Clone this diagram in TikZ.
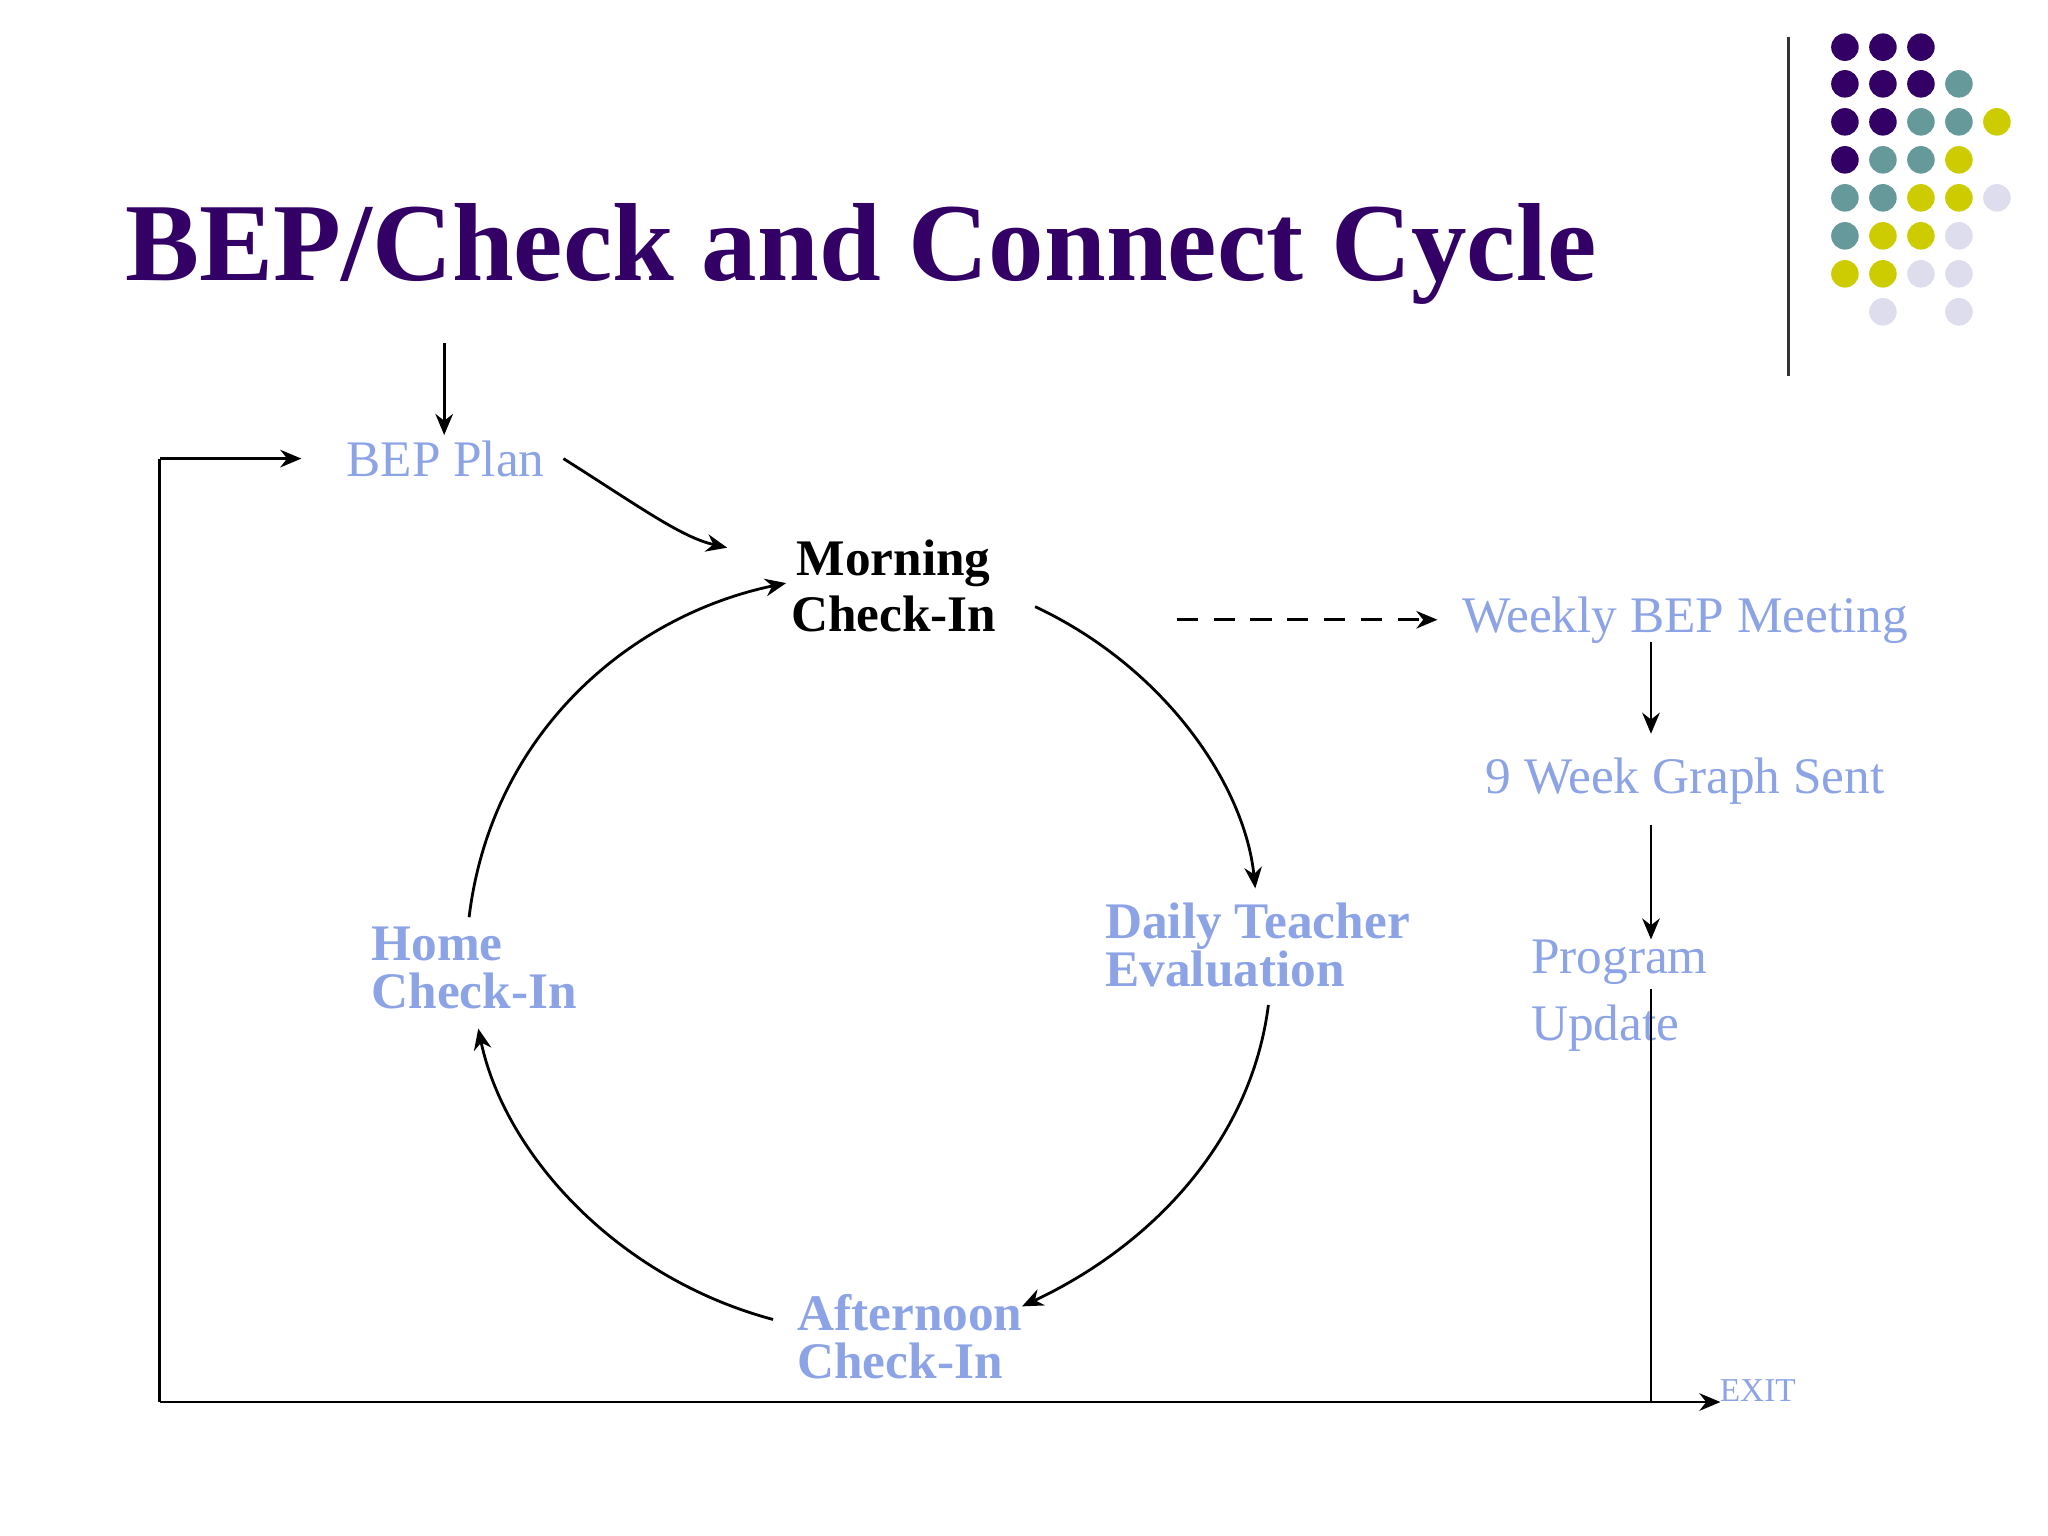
\documentclass[tikz,border=0pt]{standalone}
\usepackage{fontspec}
\setmainfont{Liberation Serif}
\usetikzlibrary{arrows.meta}
\definecolor{ttl}{HTML}{330066}
\definecolor{tl}{HTML}{669999}
\definecolor{yl}{HTML}{CCCC00}
\definecolor{lv}{HTML}{DDDDEE}
\definecolor{bl}{HTML}{8CA3E6}
\begin{document}
\begin{tikzpicture}[x=0.0131cm,y=-0.0131cm,
 lbl/.style={text=bl,font=\fontsize{14.6}{16}\selectfont,inner sep=0pt},
 blbl/.style={text=bl,font=\fontsize{14.6}{13.6}\bfseries\selectfont,inner sep=0pt,align=left},
 ar/.style={thick,-{Stealth[length=6pt,width=5pt]}},
 ln/.style={thick}]
\useasboundingbox[fill=white] (0,0) rectangle (1563,1172);
\node[text=ttl,font=\fontsize{31.6}{34}\bfseries\selectfont,anchor=west,inner sep=0pt] (title) at (95,194) {BEP/Check and Connect Cycle};
\draw[thick,black!80] (1365,28) -- (1365,287);
\foreach \x/\y/\c in {1408/36/ttl,1437/36/ttl,1466/36/ttl,
 1408/64/ttl,1437/64/ttl,1466/64/ttl,1495/64/tl,
 1408/93/ttl,1437/93/ttl,1466/93/tl,1495/93/tl,1524/93/yl,
 1408/122/ttl,1437/122/tl,1466/122/tl,1495/122/yl,
 1408/151/tl,1437/151/tl,1466/151/yl,1495/151/yl,1524/151/lv,
 1408/180/tl,1437/180/yl,1466/180/yl,1495/180/lv,
 1408/209/yl,1437/209/yl,1466/209/lv,1495/209/lv,
 1437/238/lv,1495/238/lv}
 \fill[\c] (\x,\y) circle (10.5);
\node[lbl] (plan) at (340,350) {BEP Plan};
\node[text=black,font=\fontsize{14.6}{16}\bfseries\selectfont,align=center,inner sep=0pt] (morning) at (682,447) {Morning\\Check-In};
\node[lbl] (weekly) at (1286,473) {Weekly BEP Meeting};
\node[lbl] (graph) at (1286,596) {9 Week Graph Sent};
\node[lbl,anchor=west,align=left,font=\fontsize{14.6}{19}\selectfont] (program) at (1168,760) {Program\\Update};
\node[blbl,anchor=west] (daily) at (843,721) {Daily Teacher\\Evaluation};
\node[blbl,anchor=west] (home) at (283,739) {Home\\Check-In};
\node[blbl,anchor=west] (after) at (608,1020) {Afternoon\\Check-In};
\node[text=bl,font=\fontsize{9.5}{10}\selectfont,anchor=west,inner sep=0pt] (exit) at (1312,1061) {EXIT};
\coordinate (t0) at (339,262); \coordinate (t1) at (339,332);
\draw[ar] (t0) -- (t1);
\coordinate (bl) at (122,1070); \coordinate (tl) at (122,350); \coordinate (pl) at (230,350);
\coordinate (br) at (1313,1070); \coordinate (pv) at (1260,1070);
\draw[ln] (bl) -- (tl); \draw[ar] (tl) -- (pl);
\draw[ar] (bl) -- (br);
\coordinate (w0) at (1260,490); \coordinate (w1) at (1260,560);
\draw[ar] (w0) -- (w1);
\coordinate (g0) at (1260,630); \coordinate (g1) at (1260,717); \coordinate (g2) at (1260,755);
\draw[ar] (g0) -- (g1); \draw[ln] (g2) -- (pv);
\coordinate (d0) at (898,473); \coordinate (d1) at (1097,473);
\draw[ar,dash pattern=on 6pt off 4.5pt] (d0) -- (d1);
\coordinate (p0) at (430,350); \coordinate (p1) at (555,418);
\draw[ar] (p0) .. controls (490,388) and (520,410) .. (p1);
\coordinate (a0) at (790,463); \coordinate (a1) at (958,678);
\draw[ar] (a0) .. controls (890,510) and (950,600) .. (a1);
\coordinate (b0) at (968,767); \coordinate (b1) at (780,997);
\draw[ar] (b0) .. controls (955,870) and (880,950) .. (b1);
\coordinate (c0) at (590,1007); \coordinate (c1) at (365,785);
\draw[ar] (c0) .. controls (470,975) and (385,880) .. (c1);
\coordinate (e0) at (358,700); \coordinate (e1) at (600,445);
\draw[ar] (e0) .. controls (375,560) and (480,470) .. (e1);
\end{tikzpicture}
\end{document}
